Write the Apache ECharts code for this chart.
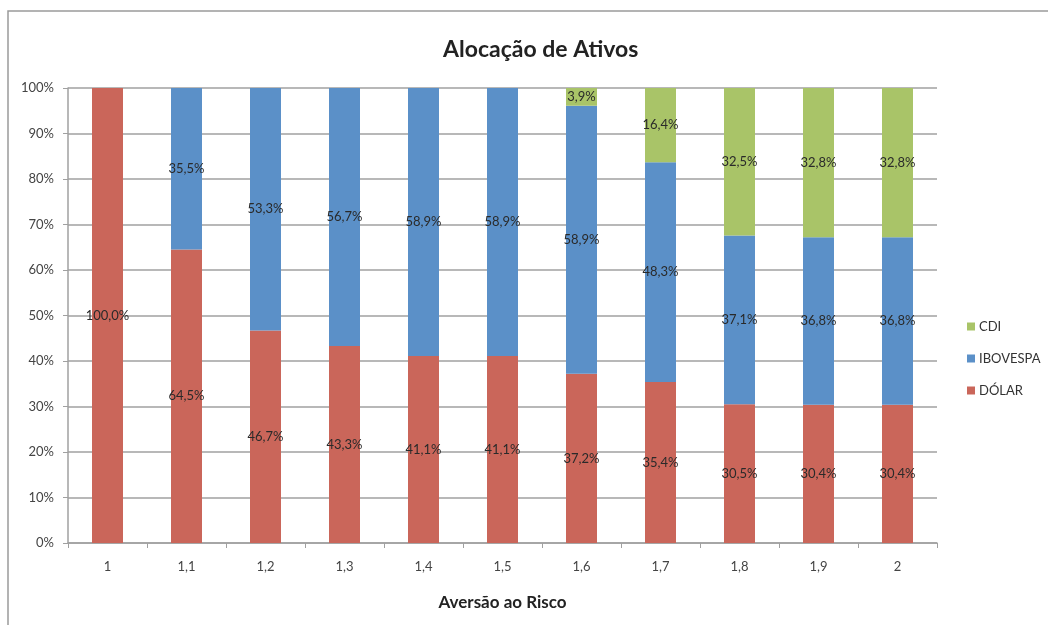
<!DOCTYPE html>
<html>
<head>
<meta charset="utf-8">
<script src="https://cdn.jsdelivr.net/npm/echarts@6/dist/echarts.min.js"></script>
<style>
  html, body { margin: 0; padding: 0; background: #fff; }
  #chart { width: 1048px; height: 625px; }
</style>
</head>
<body>
<div id="chart"></div>
<script>
const categories = ['1', '1,1', '1,2', '1,3', '1,4', '1,5', '1,6', '1,7', '1,8', '1,9', '2'];
const dolar = [100.0, 64.5, 46.7, 43.3, 41.1, 41.1, 37.2, 35.4, 30.5, 30.4, 30.4];
const ibovespa = [0, 35.5, 53.3, 56.7, 58.9, 58.9, 58.9, 48.3, 37.1, 36.8, 36.8];
const cdi = [0, 0, 0, 0, 0, 0, 3.9, 16.4, 32.5, 32.8, 32.8];
const yTicks = [0, 10, 20, 30, 40, 50, 60, 70, 80, 90, 100];

const font = 'Lato, "Open Sans", sans-serif';
const chart = echarts.init(document.getElementById('chart'));

function barLabel(p) {
  if (!p.value) return '';
  return p.value.toFixed(1).replace('.', ',') + '%';
}

function makeSeries(name, values, color) {
  return {
    name: name,
    type: 'bar',
    stack: 'total',
    barWidth: 31,
    data: values,
    itemStyle: { color: color },
    label: {
      show: true,
      position: 'inside',
      formatter: barLabel,
      color: '#2a2a2a',
      fontFamily: font,
      fontSize: 13
    }
  };
}

const option = {
  animation: false,
  graphic: [{
    type: 'rect',
    shape: { x: 8, y: 11, width: 1100, height: 700 },
    style: { fill: 'none', stroke: '#9a9a9a', lineWidth: 1.5 },
    z: -1
  }],
  title: {
    text: 'Alocação de Ativos',
    left: 438,
    top: 33,
    textStyle: { fontFamily: font, fontSize: 23, fontWeight: 'bold', color: '#222' }
  },
  legend: {
    orient: 'vertical',
    left: 962,
    top: 315,
    itemGap: 19,
    itemWidth: 8,
    itemHeight: 8,
    icon: 'rect',
    data: ['CDI', 'IBOVESPA', 'DÓLAR'],
    textStyle: { fontFamily: font, fontSize: 13, color: '#333', padding: [0, 0, 0, -1] }
  },
  grid: { left: 68, right: 111, top: 88, bottom: 82 },
  xAxis: {
    type: 'category',
    data: categories,
    name: 'Aversão ao Risco',
    nameLocation: 'middle',
    nameGap: 51,
    nameTextStyle: { fontFamily: font, fontSize: 17, fontWeight: 'bold', color: '#222' },
    axisLine: { lineStyle: { color: '#a0a0a0', width: 1.5 } },
    axisTick: { show: true, length: 5, lineStyle: { color: '#a0a0a0' } },
    axisLabel: { fontFamily: font, fontSize: 13, color: '#444', margin: 17 }
  },
  yAxis: {
    type: 'value',
    min: yTicks[0],
    max: yTicks[yTicks.length - 1],
    interval: 10,
    axisLine: { show: true, lineStyle: { color: '#a0a0a0', width: 1.5 } },
    axisTick: { show: true, length: 5, lineStyle: { color: '#a0a0a0' } },
    axisLabel: { fontFamily: font, fontSize: 13, color: '#444', margin: 14, formatter: '{value}%' },
    splitLine: { lineStyle: { color: '#a0a0a0', width: 1.5 } }
  },
  series: [
    makeSeries('DÓLAR', dolar, '#ca665a'),
    makeSeries('IBOVESPA', ibovespa, '#5b90c8'),
    makeSeries('CDI', cdi, '#a9c468')
  ]
};

chart.setOption(option);
</script>
</body>
</html>
